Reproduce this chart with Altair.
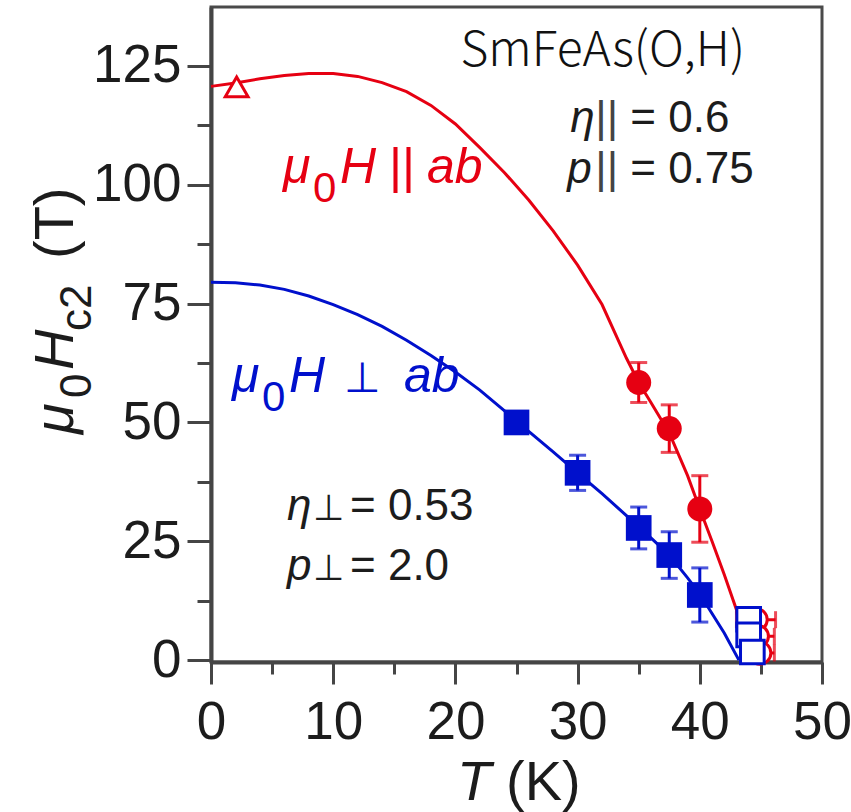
import altair as alt
import pandas as pd

RED = "#e60012"
BLUE = "#0010cc"
INK = "#1c1c1c"
FONT = "Liberation Sans"

# H || ab : filled circles with vertical error bars
par_T = [35.0, 37.5, 40.0]
par_H = [58.4, 48.7, 31.8]
par_err = [4.2, 5.0, 7.0]

# H || ab : low-temperature point (open triangle)
tri_T = [2.1]
tri_H = [120.6]

# H || ab : open circles close to Tc, horizontal error bars
par_open_T = [44.6, 44.7, 44.9]
par_open_H = [8.5, 5.0, 1.5]
par_open_xerr = [1.6, 1.4, 1.2]

# H perp ab : filled squares with vertical error bars
perp_T = [25.0, 30.0, 35.0, 37.5, 40.0]
perp_H = [50.0, 39.4, 27.8, 22.1, 13.7]
perp_err = [1.5, 3.7, 4.4, 4.9, 5.7]

# H perp ab : open squares close to Tc
perp_open_T = [44.0, 44.0, 44.3]
perp_open_H = [8.6, 5.3, 1.7]

# Fitted Hc2(T) curves
par_fit_T = [0, 2, 4, 6, 8, 10, 12, 14, 16, 18, 20, 22, 24, 26, 28, 30, 32, 34,
             35, 36, 37.5, 39, 40, 41, 42, 43, 43.7]
par_fit_H = [120.7, 121.4, 122.3, 123.0, 123.4, 123.4, 122.8, 121.5, 119.6, 116.7,
             112.8, 107.8, 102.6, 96.8, 90.3, 83.1, 74.8, 63.5, 58.4, 54.2, 47.8,
             38.8, 31.8, 25.0, 18.0, 10.6, 0.0]
perp_fit_T = [0, 2, 4, 6, 8, 10, 12, 14, 16, 18, 20, 22, 24, 25, 26, 28, 30, 32,
              34, 35, 36, 37.5, 39, 40, 41, 42, 43.2]
perp_fit_H = [79.5, 79.4, 78.9, 78.0, 76.6, 74.8, 72.7, 70.2, 67.3, 64.1, 60.6,
              56.8, 52.5, 50.3, 48.1, 43.8, 39.4, 35.0, 30.4, 28.0, 25.7, 22.1,
              17.3, 13.9, 9.8, 5.7, 0.0]

# Axis ticks (majors are labelled, minors are not)
x_ticks = [0, 5, 10, 15, 20, 25, 30, 35, 40, 45, 50]
y_ticks = [0, 12.5, 25, 37.5, 50, 62.5, 75, 87.5, 100, 112.5, 125]

x_scale = alt.Scale(domain=[0, 50], nice=False, zero=False)
y_scale = alt.Scale(domain=[-0.4, 137.4], nice=False, zero=False)

axis_common = dict(
    grid=False, title=None, labelFont=FONT, labelFontSize=53, labelColor=INK,
    domainColor="#454545", domainWidth=4, tickColor="#454545", tickWidth=3,
    labelOverlap=False, labelFlush=False,
)
x_axis = alt.Axis(
    values=x_ticks,
    labelExpr="datum.value % 10 === 0 ? datum.label : ''",
    tickSize={"condition": {"test": "datum.value % 10 === 0", "value": 22}, "value": 12},
    labelPadding=12,
    **axis_common,
)
y_axis = alt.Axis(
    values=y_ticks,
    labelExpr="datum.value % 25 === 0 ? datum.label : ''",
    tickSize={"condition": {"test": "datum.value % 25 === 0", "value": 24}, "value": 14},
    labelPadding=6,
    **axis_common,
)


def X(field="T"):
    return alt.X(f"{field}:Q", scale=x_scale, axis=x_axis)


def Y(field="H"):
    return alt.Y(f"{field}:Q", scale=y_scale, axis=y_axis)


par_fit = pd.DataFrame({"T": par_fit_T, "H": par_fit_H})
perp_fit = pd.DataFrame({"T": perp_fit_T, "H": perp_fit_H})
par_pts = pd.DataFrame({"T": par_T, "H": par_H,
                        "lo": [h - e for h, e in zip(par_H, par_err)],
                        "hi": [h + e for h, e in zip(par_H, par_err)]})
perp_pts = pd.DataFrame({"T": perp_T, "H": perp_H,
                         "lo": [h - e for h, e in zip(perp_H, perp_err)],
                         "hi": [h + e for h, e in zip(perp_H, perp_err)]})
par_open = pd.DataFrame({"T": par_open_T, "H": par_open_H,
                         "lo": [t - e for t, e in zip(par_open_T, par_open_xerr)],
                         "hi": [t + e for t, e in zip(par_open_T, par_open_xerr)]})
perp_open = pd.DataFrame({"T": perp_open_T, "H": perp_open_H})
tri = pd.DataFrame({"T": tri_T, "H": tri_H})

layers = []

# ---- H || ab (red)
layers.append(alt.Chart(par_fit).mark_line(color=RED, strokeWidth=3).encode(x=X(), y=Y()))
layers.append(alt.Chart(par_pts).mark_errorbar(ticks=True, size=17, thickness=3, color=RED)
              .encode(x=X(), y=Y("lo"), y2="hi:Q"))
layers.append(alt.Chart(par_pts).mark_point(shape="circle", filled=True, size=625,
                                             color=RED, opacity=1).encode(x=X(), y=Y()))
layers.append(alt.Chart(par_open).mark_errorbar(ticks=True, size=17, thickness=3, color=RED)
              .encode(x=X("lo"), x2="hi:Q", y=Y()))
layers.append(alt.Chart(par_open).mark_point(shape="circle", fill="white", stroke=RED,
                                              strokeWidth=3, size=500, opacity=1)
              .encode(x=X(), y=Y()))
layers.append(alt.Chart(tri).mark_point(shape="triangle-up", fill="white", stroke=RED,
                                         strokeWidth=3, size=520, opacity=1)
              .encode(x=X(), y=Y()))

# ---- H perp ab (blue)
layers.append(alt.Chart(perp_fit).mark_line(color=BLUE, strokeWidth=3).encode(x=X(), y=Y()))
layers.append(alt.Chart(perp_pts).mark_errorbar(ticks=True, size=17, thickness=3, color=BLUE)
              .encode(x=X(), y=Y("lo"), y2="hi:Q"))
layers.append(alt.Chart(perp_pts).mark_point(shape="square", filled=True, size=660,
                                              color=BLUE, opacity=1).encode(x=X(), y=Y()))
layers.append(alt.Chart(perp_open).mark_point(shape="square", fill="white", stroke=BLUE,
                                               strokeWidth=3, size=560, opacity=1)
              .encode(x=X(), y=Y()))


def note(txt, t, h, size=44, italic=False, dx=0, dy=0, color=INK, align="left",
         font=FONT, weight="normal"):
    """Text piece anchored at a data position (T, H)."""
    return alt.Chart(pd.DataFrame({"T": [t], "H": [h]})).mark_text(
        text=txt, font=font, fontSize=size, fontStyle="italic" if italic else "normal",
        fontWeight=weight, dx=dx, dy=dy, color=color, align=align, baseline="alphabetic",
    ).encode(x=X(), y=Y())


def label(txt, px, py, size, italic=False, dx=0, dy=0, angle=0, color=INK):
    """Text piece placed in the frame of the plot area (used for axis titles)."""
    return alt.Chart(pd.DataFrame({"s": [txt]})).mark_text(
        text=txt, font=FONT, fontSize=size, fontStyle="italic" if italic else "normal",
        dx=dx, dy=dy, angle=angle, color=color, align="left", baseline="alphabetic",
    ).encode(x=alt.value(px), y=alt.value(py))


# compound name
layers.append(note("SmFeAs(O,H)", 43.7, 125.0, size=48, align="right",
                   font="Noto Sans CJK JP", color="#111111", weight=300))

# fit parameters, H || ab
layers += [
    note("η", 29.4, 111.1, italic=True),
    note("||", 29.4, 111.1, dx=25, color="#444444"),
    note("= 0.6", 29.4, 111.1, dx=60),
    note("p", 29.15, 100.4, italic=True),
    note("||", 29.15, 100.4, dx=28, color="#444444"),
    note("= 0.75", 29.15, 100.4, dx=63),
]
# fit parameters, H perp ab
layers += [
    note("η", 6.22, 29.5, italic=True),
    note("⊥", 6.22, 29.5, size=36, dx=26),
    note("= 0.53", 6.22, 29.5, dx=63),
    note("p", 6.22, 16.8, italic=True),
    note("⊥", 6.22, 16.8, size=36, dx=26),
    note("= 2.0", 6.22, 16.8, dx=63),
]
# field-direction labels
for c, t0, h0, sym, symsize, dsym, dab in [(RED, 5.89, 100.4, "||", 50, 106, 144),
                                           (BLUE, 1.72, 56.4, "⊥", 42, 112, 172)]:
    layers += [
        note("μ", t0, h0, size=50, italic=True, color=c),
        note("0", t0, h0, size=42, dx=30, dy=19, color=c),
        note("H", t0, h0, size=50, italic=True, dx=57, color=c),
        note(sym, t0, h0, size=symsize, dx=dsym, color=c),
        note("ab", t0, h0, size=50, italic=True, dx=dab, color=c),
    ]

# axis titles
layers += [
    label("T", 246, 793, 56, italic=True),
    label("(K)", 295, 793, 56),
    label("μ", -138, 427, 56, italic=True, angle=270),
    label("0", -138, 427, 44, dx=36, dy=18, angle=270),
    label("H", -138, 427, 56, italic=True, dx=64, angle=270),
    label("c2", -138, 427, 44, dx=103, dy=18, angle=270),
    label("(T)", -138, 427, 56, dx=175, angle=270),
]

chart = alt.layer(*layers).properties(
    width=611, height=655, autosize="none",
    padding={"left": 211, "top": 7, "right": 29, "bottom": 150},
    background="white",
).configure_view(stroke="#4a4a4a", strokeWidth=3)

chart.save("out.html", embed_options={"renderer": "svg", "actions": False})
